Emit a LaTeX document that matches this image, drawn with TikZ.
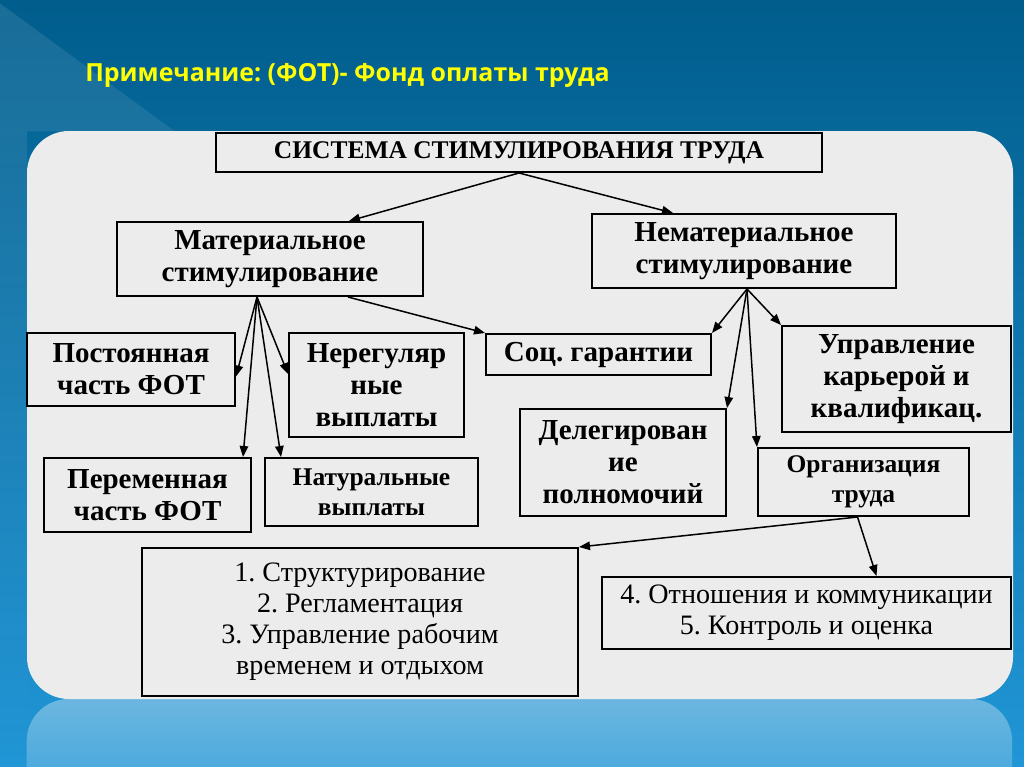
\documentclass[tikz,border=0pt]{standalone}
\usepackage{fontspec}
\setmainfont{Liberation Serif}
\newfontfamily\notefont{Open Sans}
\usetikzlibrary{arrows.meta,fadings}
\definecolor{bgTop}{HTML}{005D8C}
\definecolor{bgBot}{HTML}{2196D6}
\definecolor{panelF}{HTML}{ECECEC}
\definecolor{noteC}{HTML}{FFFF00}
\newlength\px \setlength\px{0.02cm}
\frenchspacing
\tikzset{
  box/.style={draw=black, fill=panelF, line width=0.04cm, align=center, inner sep=0pt,
              font=\bfseries\fontsize{16.5}{18.2}\selectfont},
  sz/.style 2 args={minimum width=#1\px, minimum height=#2\px},
  small/.style={font=\bfseries\fontsize{14.5}{17}\selectfont},
  plain/.style={font=\fontsize{16}{17.6}\selectfont},
  arr/.style={-{Triangle[length=0.22cm,width=0.17cm]}, line width=0.03cm},
}

\begin{document}
\begin{tikzpicture}[x=0.02cm, y=-0.02cm]
\useasboundingbox (0,0) rectangle (1024,767);
\clip (0,0) rectangle (1024,767);
% slide background
\shade[top color=bgTop, bottom color=bgBot] (0,0) rectangle (1024,767);
\fill[white, opacity=0.1, path fading=south] (0,3) -- (175,131) -- (27,131) -- (27,767) -- (0,767) -- cycle;
\fill[white, opacity=0.35, path fading=south, rounded corners=0.84cm] (27,699) rectangle (1013,860);
\fill[panelF, rounded corners=0.84cm] (27,131) rectangle (1013,699);
\node[anchor=base west, inner sep=0pt, text=noteC, font=\notefont\bfseries\fontsize{14.2}{16}\selectfont]
  (note) at (85,82) {Примечание: (ФОТ)- Фонд оплаты труда};
% boxes
\node[box, sz={606}{39}, font=\bfseries\fontsize{14.5}{16}\selectfont] (sys) at (519,152.5) {СИСТЕМА СТИМУЛИРОВАНИЯ ТРУДА};
\node[box, sz={306}{74}] (mat) at (270,259) {Материальное\\стимулирование};
\node[box, sz={304}{74}] (nemat) at (744,251) {Нематериальное\\стимулирование};
\node[box, sz={208}{73}] (post) at (131,369.5) {Постоянная\\часть ФОТ};
\node[box, sz={175}{104}] (nereg) at (376.5,385) {Нерегуляр\\ные\\выплаты};
\node[box, sz={207}{74}] (perem) at (147.5,495) {Переменная\\часть ФОТ};
\node[box, small, sz={213}{68}] (natur) at (371.5,492) {Натуральные\\выплаты};
\node[box, sz={225}{41}] (soc) at (598.5,354.5) {Соц. гарантии};
\node[box, sz={229}{106}] (upr) at (896.5,379) {Управление\\карьерой и\\квалификац.};
\node[box, sz={206}{107}] (deleg) at (623,462.5) {Делегирован\\ие\\полномочий};
\node[box, small, sz={211}{68}] (org) at (863.5,482) {Организация\\труда};
\node[box, plain, sz={436}{148}] (list1) at (360,622) {1. Структурирование\\2. Регламентация\\3. Управление рабочим\\временем и отдыхом};
\node[box, plain, sz={409}{72}] (list2) at (806.5,613) {4. Отношения и коммуникации\\5. Контроль и оценка};
% fan points
\coordinate (mf) at ([xshift=-0.26cm]mat.south);
\coordinate (nf) at ([xshift=0.06cm]nemat.south);
\coordinate (of) at ([xshift=-0.12cm]org.south);
% arrows
\draw[arr] (sys.south) -- ([xshift=1.58cm]mat.north);
\draw[arr] (sys.south) -- ([xshift=-1.42cm]nemat.north);
\draw[arr] (mf) -- ([yshift=-0.14cm]post.east);
\draw[arr] (mf) -- ([xshift=-0.18cm]perem.north east);
\draw[arr] (mf) -- ([xshift=0.34cm]natur.north west);
\draw[arr] (mf) -- ([yshift=0.22cm]nereg.west);
\draw[arr] ([xshift=1.56cm]mat.south) -- (soc.north west);
\draw[arr] (nf) -- (soc.north east);
\draw[arr] (nf) -- (deleg.north east);
\draw[arr] (nf) -- (org.north west);
\draw[arr] (nf) -- (upr.north west);
\draw[arr] (of) -- (list1.north east);
\draw[arr] (of) -- ([xshift=1.4cm]list2.north);
\end{tikzpicture}
\end{document}
